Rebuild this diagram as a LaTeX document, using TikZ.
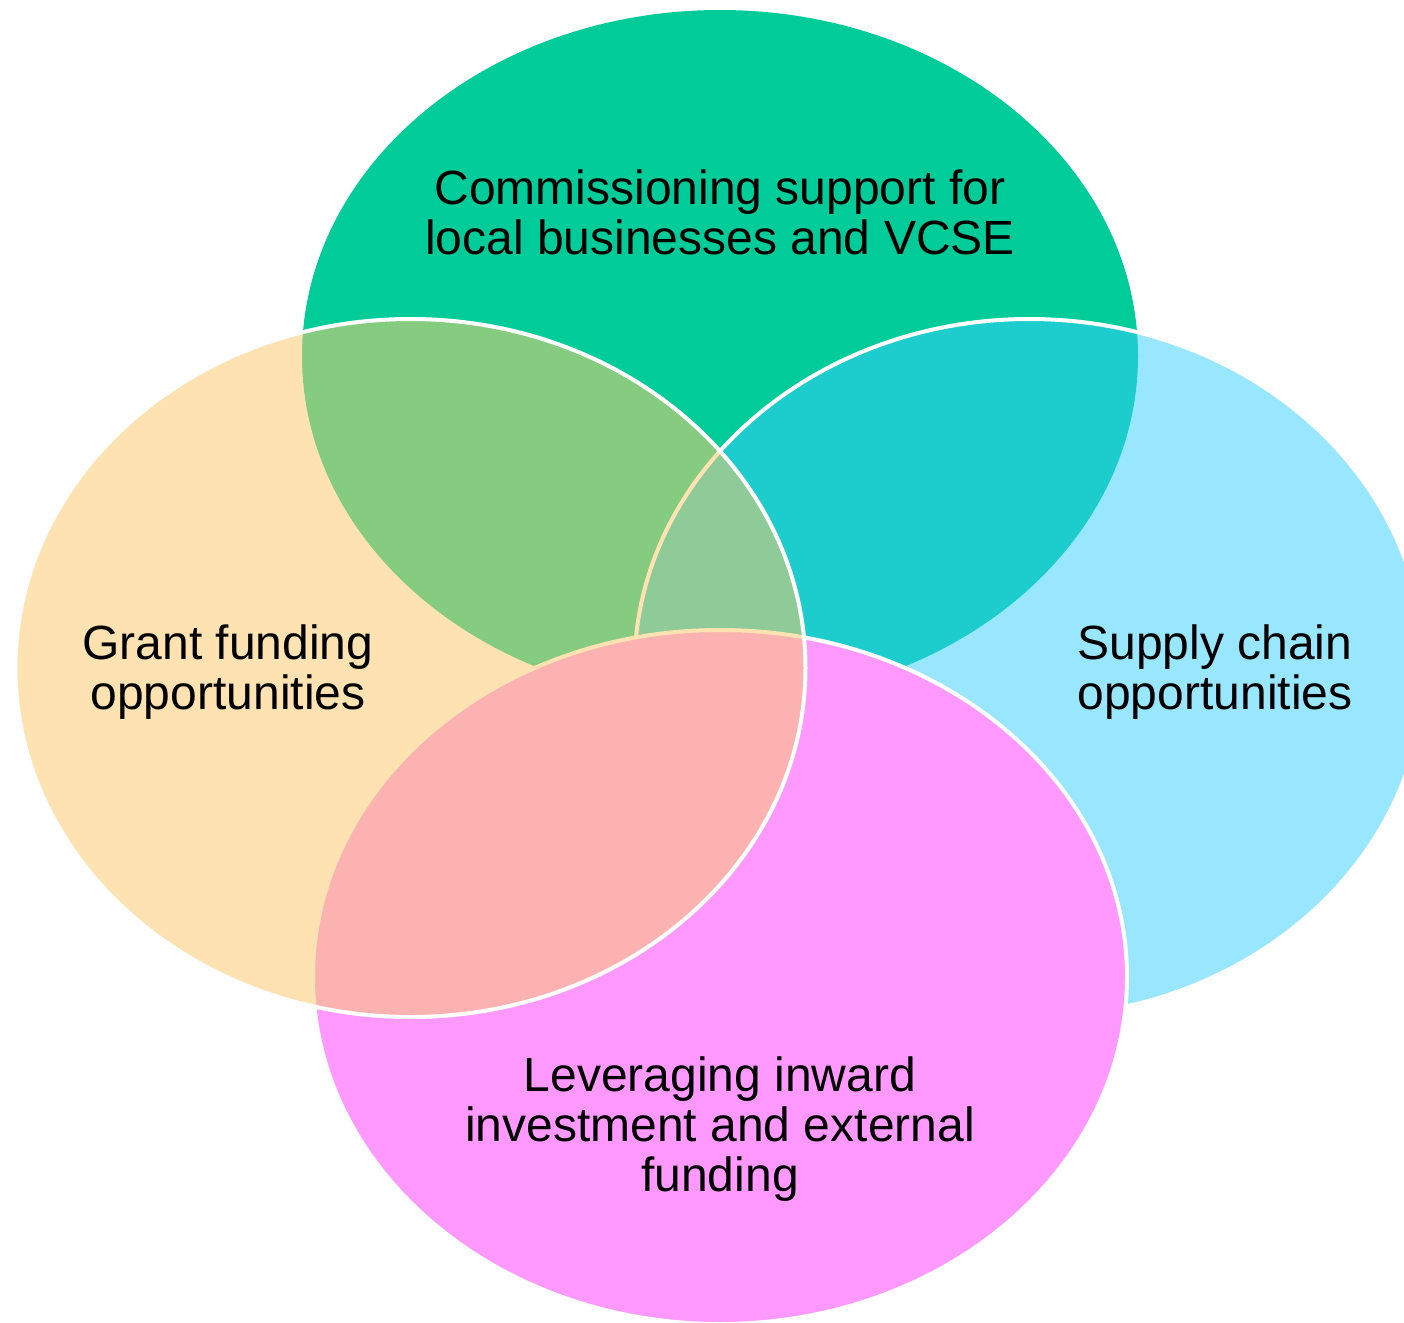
\documentclass[tikz,border=0pt]{standalone}
\usepackage{fontspec}
\setmainfont{Liberation Sans}
\definecolor{cgreen}{RGB}{0,204,153}
\definecolor{cblue}{RGB}{153,230,255}
\definecolor{cpink}{RGB}{255,153,255}
\definecolor{cyellow}{RGB}{254,226,178}
\definecolor{cgy}{RGB}{133,204,128}
\definecolor{cgb}{RGB}{29,204,204}
\definecolor{cgby}{RGB}{143,203,153}
\definecolor{cpy}{RGB}{253,178,178}
\begin{document}
\begin{tikzpicture}[x=0.5pt,y=0.5pt,
  eG/.style={x radius=418,y radius=346},
  eY/.style={x radius=395,y radius=349},
  eB/.style={x radius=395,y radius=349},
  eP/.style={x radius=407,y radius=347},
  edge/.style={line width=2pt},
  lbl/.style={align=center,font=\fontsize{24}{25}\selectfont,text=black,inner sep=0pt}]
\useasboundingbox (0,0) rectangle (1404,-1323);
\clip (0,0) rectangle (1404,-1323);
\coordinate (cG) at (720,-356);
\coordinate (cY) at (410.5,-668);
\coordinate (cB) at (1029.5,-668);
\coordinate (cP) at (720,-977);
% green
\fill[cgreen] (cG) ellipse[eG];
% blue
\fill[cblue] (cB) ellipse[eB];
\begin{scope}
  \clip (cG) ellipse[eG];
  \fill[cgb] (cB) ellipse[eB];
\end{scope}
\draw[white,edge] (cB) ellipse[eB];
% pink
\fill[cpink] (cP) ellipse[eP];
\draw[white,edge] (cP) ellipse[eP];
% yellow (translucent layer)
\begin{scope}
  \clip (cY) ellipse[eY];
  \fill[cyellow] (cY) ellipse[eY];
  \fill[cgy] (cG) ellipse[eG];
  \begin{scope}
    \clip (cB) ellipse[eB];
    \fill[cgby] (cG) ellipse[eG];
  \end{scope}
  \draw[cyellow,edge] (cB) ellipse[eB];
  \fill[cpy] (cP) ellipse[eP];
  \draw[cyellow,edge] (cP) ellipse[eP];
\end{scope}
\draw[white,edge] (cY) ellipse[eY];
% labels
\node[lbl] (tG) at (720,-212.5) {Commissioning support for\\local businesses and VCSE};
\node[lbl] (tY) at (228,-672) {Grant funding\\opportunities};
\node[lbl] (tB) at (1215,-672) {Supply chain\\opportunities};
\node[lbl] (tP) at (720,-1129.5) {Leveraging inward\\investment and external\\funding};
\end{tikzpicture}
\end{document}
